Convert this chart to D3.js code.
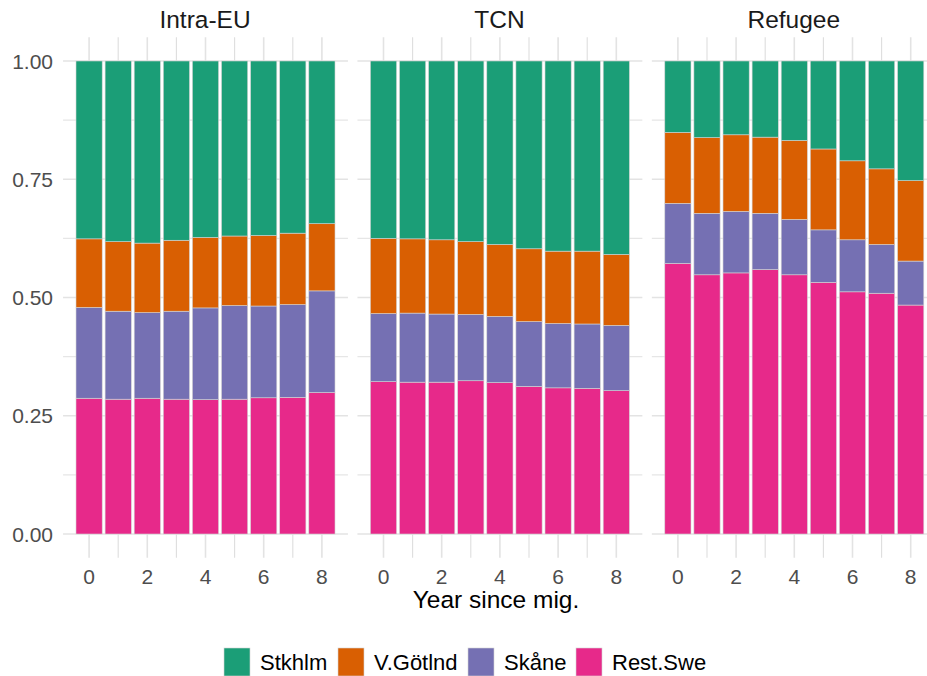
<!DOCTYPE html>
<html><head><meta charset="utf-8">
<script src="https://cdn.jsdelivr.net/npm/d3@7"></script>
<style>body{margin:0;background:#fff}svg{display:block}text{font-family:"Liberation Sans",Arial,sans-serif}</style>
</head><body><svg id="c" width="927" height="676"></svg>
<script>
const groups = ["Intra-EU","TCN","Refugee"];
const years = [0,1,2,3,4,5,6,7,8];
const regions = ["Stkhlm","V.Götlnd","Skåne","Rest.Swe"];
const colors = ["#1B9E77","#D95F02","#7570B3","#E7298A"];
const yTicks = [0,0.25,0.5,0.75,1];
const yTickLabels = ["0.00","0.25","0.50","0.75","1.00"];
const xTicks = [0,2,4,6,8];

// shares per group, per region (index = year)
const restSwe = {
  "Intra-EU":[0.287,0.285,0.287,0.285,0.284,0.285,0.288,0.289,0.299],
  "TCN":     [0.322,0.321,0.321,0.324,0.320,0.312,0.309,0.308,0.303],
  "Refugee": [0.572,0.548,0.552,0.559,0.548,0.532,0.512,0.509,0.484]
};
const skane = {
  "Intra-EU":[0.192,0.186,0.181,0.186,0.194,0.198,0.194,0.196,0.215],
  "TCN":     [0.144,0.146,0.144,0.140,0.140,0.137,0.136,0.136,0.138],
  "Refugee": [0.127,0.130,0.130,0.119,0.117,0.111,0.110,0.103,0.093]
};
const vGotlnd = {
  "Intra-EU":[0.145,0.147,0.147,0.150,0.149,0.147,0.149,0.151,0.142],
  "TCN":     [0.159,0.157,0.157,0.154,0.152,0.154,0.153,0.154,0.150],
  "Refugee": [0.150,0.160,0.162,0.161,0.167,0.171,0.167,0.160,0.170]
};
const stkhlm = {
  "Intra-EU":[0.376,0.382,0.385,0.379,0.373,0.370,0.369,0.364,0.344],
  "TCN":     [0.375,0.376,0.378,0.382,0.388,0.397,0.402,0.402,0.409],
  "Refugee": [0.151,0.162,0.156,0.161,0.168,0.186,0.211,0.228,0.253]
};
const seriesByRegion = {"Stkhlm":stkhlm,"V.Götlnd":vGotlnd,"Skåne":skane,"Rest.Swe":restSwe};

const svg = d3.select("#c");
const panelW = 284.9, panelStep = 294.4, panelX0 = 63.05;
const plotTop = 37.35, plotBottom = 557.65;
const y = d3.scaleLinear().domain([-0.05,1.05]).range([plotBottom, plotTop]);
const color = d3.scaleOrdinal().domain(regions).range(colors);
const stackOrder = ["Rest.Swe","Skåne","V.Götlnd","Stkhlm"];

groups.forEach((g, gi) => {
  const x0 = panelX0 + gi*panelStep;
  const x = d3.scaleLinear().domain([-0.895, 8.895]).range([x0, x0+panelW]);
  const p = svg.append("g");
  // minor grid
  [0.125,0.375,0.625,0.875].forEach(v => p.append("line").attr("x1",x0).attr("x2",x0+panelW)
    .attr("y1",y(v)).attr("y2",y(v)).attr("stroke","#e6e6e6").attr("stroke-width",1.1));
  [1,3,5,7].forEach(v => p.append("line").attr("y1",plotTop).attr("y2",plotBottom)
    .attr("x1",x(v)).attr("x2",x(v)).attr("stroke","#dedede").attr("stroke-width",1.1));
  // major grid
  yTicks.forEach(v => p.append("line").attr("x1",x0).attr("x2",x0+panelW)
    .attr("y1",y(v)).attr("y2",y(v)).attr("stroke","#e3e3e3").attr("stroke-width",1.6));
  xTicks.forEach(v => p.append("line").attr("y1",plotTop).attr("y2",plotBottom)
    .attr("x1",x(v)).attr("x2",x(v)).attr("stroke","#e3e3e3").attr("stroke-width",1.6));

  // stacked data
  const rows = years.map((yr, i) => {
    const r = {year: yr};
    regions.forEach(reg => r[reg] = seriesByRegion[reg][g][i]);
    return r;
  });
  const stacked = d3.stack().keys(stackOrder)(rows);
  const bw = (x(0.45) - x(-0.45));
  stacked.forEach(layer => {
    p.append("g").selectAll("rect").data(layer).join("rect")
      .attr("x", d => x(d.data.year) - bw/2)
      .attr("width", bw)
      .attr("y", d => y(d[1]))
      .attr("height", d => y(d[0]) - y(d[1]))
      .attr("fill", color(layer.key))
      .attr("stroke", "#d4d4d4").attr("stroke-width", 0.6);
  });

  // strip title
  svg.append("text").attr("x", x0 + panelW/2 - 0.5).attr("y", 27.5).attr("text-anchor","middle")
    .attr("font-size", 24.5).attr("fill","#1a1a1a").text(g);
  // x tick labels
  xTicks.forEach(v => svg.append("text").attr("x", x(v)).attr("y", 583.5).attr("text-anchor","middle")
    .attr("font-size", 21).attr("fill","#4d4d4d").text(v));
});

// y axis labels
yTicks.forEach((v,i) => svg.append("text").attr("x", 53).attr("y", y(v)).attr("dy","0.36em")
  .attr("text-anchor","end").attr("font-size",21).attr("fill","#4d4d4d").text(yTickLabels[i]));

// axis title
svg.append("text").attr("x", 496).attr("y", 608).attr("text-anchor","middle")
  .attr("font-size", 24.5).attr("fill","#000").text("Year since mig.");

// legend
const legX = [224, 338, 468, 576];
regions.forEach((r, i) => {
  svg.append("rect").attr("x", legX[i]).attr("y", 648).attr("width", 26).attr("height", 28)
    .attr("fill", color(r)).attr("stroke","#d4d4d4").attr("stroke-width",0.6);
  svg.append("text").attr("x", legX[i] + 36).attr("y", 662).attr("dy","0.36em")
    .attr("font-size", 22).attr("fill","#000").text(r);
});
</script></body></html>
